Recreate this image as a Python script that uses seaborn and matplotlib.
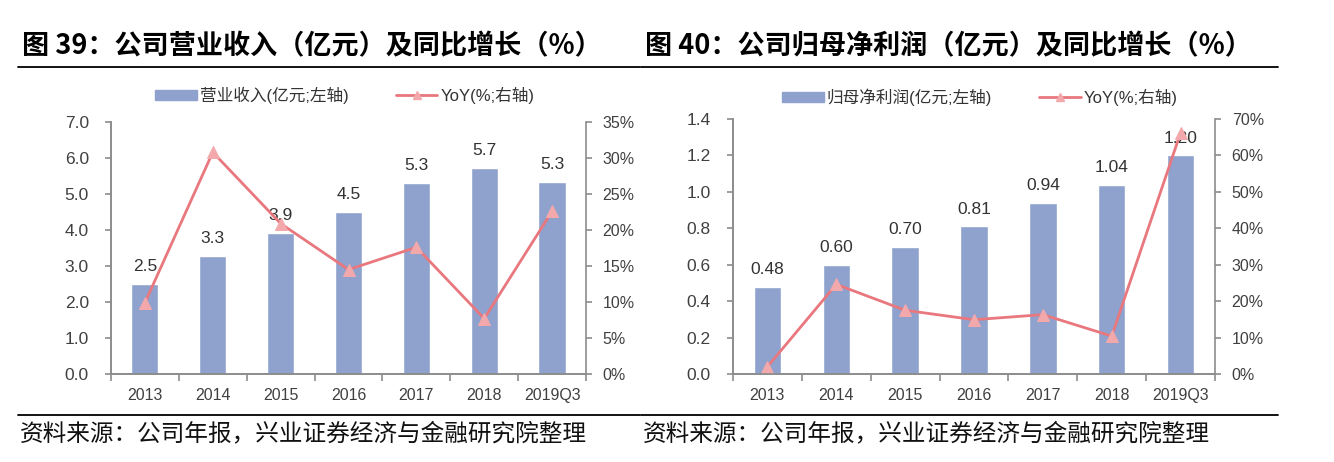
import numpy as np
import pandas as pd
import seaborn as sns
import matplotlib.pyplot as plt
from matplotlib.patches import Patch
from matplotlib.lines import Line2D

# data
years = ["2013", "2014", "2015", "2016", "2017", "2018", "2019Q3"]
revenue = [2.50, 3.28, 3.92, 4.51, 5.31, 5.72, 5.34]
revenue_yoy = [9.9, 30.8, 20.9, 14.5, 17.6, 7.7, 22.6]
net_profit = [0.48, 0.60, 0.70, 0.81, 0.94, 1.04, 1.20]
net_profit_yoy = [2.0, 24.6, 17.5, 14.9, 16.3, 10.4, 66.2]

title_left = "图 39：公司营业收入（亿元）及同比增长（%）"
title_right = "图 40：公司归母净利润（亿元）及同比增长（%）"
legend_left = ["营业收入(亿元;左轴)", "YoY(%;右轴)"]
legend_right = ["归母净利润(亿元;左轴)", "YoY(%;右轴)"]
source = "资料来源：公司年报，兴业证券经济与金融研究院整理"

BAR = "#8FA2CD"
LINE = "#E9777E"
MARK = "#F3A9AC"
GRAY = "#8C8C8C"
TXT = "#404040"

sns.set_theme(style="white")
plt.rcParams['font.family'] = ['Liberation Sans', 'Noto Sans CJK SC', 'DejaVu Sans']

W, H = 1334, 462
fig = plt.figure(figsize=(W / 100, H / 100), dpi=100)


def panel(rect, values, yoy, ymax, ystep, yfmt, lblfmt, pmax, pstep):
    ax = fig.add_axes(rect)
    df = pd.DataFrame({"year": years, "v": values})
    sns.barplot(data=df, x="year", y="v", ax=ax, color=BAR, width=0.4,
                saturation=1)
    ax.bar_label(ax.containers[0], labels=[lblfmt.format(v) for v in values],
                 padding=7, fontsize=12.5, color="#333333")
    ax.set_xlim(-0.5, len(years) - 0.5)
    ax.set_ylim(0, ymax)
    ax.set_yticks(np.arange(0, ymax + ystep / 2, ystep))
    ax.set_yticklabels([yfmt.format(t) for t in ax.get_yticks()])
    ax.set_xlabel("")
    ax.set_ylabel("")
    ax.set_xticks(np.arange(-0.5, len(years)), minor=True)
    ax.tick_params(axis="x", which="major", length=0, pad=10,
                   labelsize=11.5, labelcolor=TXT)
    ax.tick_params(axis="x", which="minor", length=5, direction="out",
                   color=GRAY, width=1.2, bottom=True)
    ax.tick_params(axis="y", length=4, direction="out", color=GRAY,
                   width=1.2, pad=12, labelsize=12.5, labelcolor=TXT, left=True)

    axr = ax.twinx()
    sns.lineplot(x=np.arange(len(years)), y=yoy, ax=axr, color=LINE, lw=2,
                 marker="^", markersize=8, markerfacecolor=MARK,
                 markeredgecolor=MARK, legend=False)
    axr.set_ylim(0, pmax)
    axr.set_yticks(np.arange(0, pmax + pstep / 2, pstep))
    axr.set_yticklabels([f"{t:.0f}%" for t in axr.get_yticks()])
    axr.set_ylabel("")
    axr.tick_params(axis="y", length=4, direction="out", color=GRAY,
                    width=1.2, pad=8, labelsize=11.5, labelcolor=TXT, right=True)

    for a in (ax, axr):
        a.spines["top"].set_visible(False)
        for s in ("left", "right", "bottom"):
            a.spines[s].set_color(GRAY)
            a.spines[s].set_linewidth(1.2)
    ax.spines["right"].set_visible(False)
    return ax


def legend(labels, cx, cy):
    handles = [
        Patch(facecolor=BAR, edgecolor=BAR),
        Line2D([], [], color=LINE, lw=2, marker="^", markersize=6,
               markerfacecolor=MARK, markeredgecolor=MARK),
    ]
    fig.legend(handles, labels, loc="center", bbox_to_anchor=(cx, cy),
               ncol=2, frameon=False, fontsize=12, labelcolor="#333333",
               handlelength=2.5, handleheight=0.55, handletextpad=0.2,
               columnspacing=2.8)


panel([111 / W, 1 - 374 / H, (586 - 111) / W, (374 - 122) / H],
      revenue, revenue_yoy, 7, 1, "{:.1f}", "{:.1f}", 35, 5)
panel([733 / W, 1 - 374 / H, (1215 - 733) / W, (374 - 119) / H],
      net_profit, net_profit_yoy, 1.4, 0.2, "{:.1f}", "{:.2f}", 70, 10)

legend(legend_left, 345 / W, 1 - 95 / H)
legend(legend_right, 980 / W, 1 - 97 / H)

# titles, rules and source notes
for x0, x1, title in ((22, 640, title_left), (645, 1278, title_right)):
    fig.text(x0 / W, 1 - 46 / H, title, fontsize=19.5, fontweight="bold",
             va="center", ha="left", color="black",
             family=["Noto Sans CJK SC", "DejaVu Sans"])
    fig.add_artist(Line2D([(x0 - 4) / W, x1 / W], [1 - 67 / H] * 2,
                          color="black", lw=1.3))
    fig.add_artist(Line2D([(x0 - 4) / W, x1 / W], [1 - 415 / H] * 2,
                          color="black", lw=1.3))
    fig.text((x0 - 2) / W, 1 - 434 / H, source, fontsize=17,
             va="center", ha="left", color="#111111",
             family=["Noto Sans CJK SC", "DejaVu Sans"])

plt.savefig("out.png", dpi=100)
